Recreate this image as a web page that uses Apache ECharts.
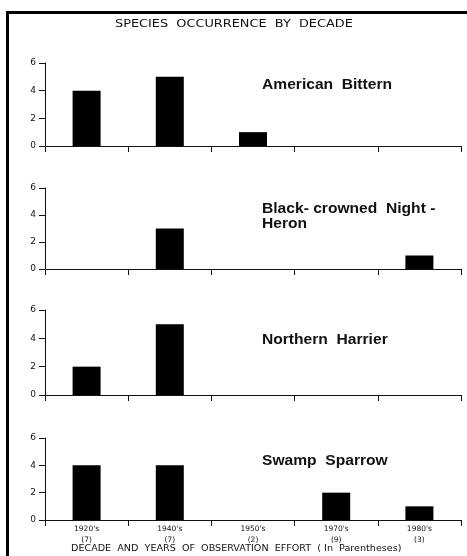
<!DOCTYPE html>
<html><head><meta charset="utf-8">
<script src="https://cdn.jsdelivr.net/npm/echarts@6/dist/echarts.min.js"></script>
<style>html,body{margin:0;padding:0;background:#fff}#c{width:467px;height:556px}</style>
</head><body><div id="c"></div>
<script>
const decades = ["1920's", "1940's", "1950's", "1970's", "1980's"];
const effortYears = ["(7)", "(7)", "(2)", "(9)", "(3)"];
const species = ["American  Bittern", "Black- crowned  Night -\nHeron", "Northern  Harrier", "Swamp  Sparrow"];
const americanBittern = [4, 5, 1, 0, 0];
const nightHeron = [0, 3, 0, 0, 1];
const northernHarrier = [2, 5, 0, 0, 0];
const swampSparrow = [4, 4, 0, 2, 1];
const yTicks = [0, 2, 4, 6];
const seriesData = [americanBittern, nightHeron, northernHarrier, swampSparrow];

const gridTops = [63, 188, 310, 438];
const gridHeights = [83, 81, 85, 82];
const labelY = [77, 201, 332, 453];

const chart = echarts.init(document.getElementById('c'), null, {renderer: 'canvas'});
const grids = [], xAxes = [], yAxes = [], series = [], graphics = [];
const font = 'DejaVu Sans';
seriesData.forEach((d, i) => {
  grids.push({left: 45, right: 6, top: gridTops[i], height: gridHeights[i]});
  const last = i === seriesData.length - 1;
  xAxes.push({
    type: 'category', gridIndex: i, data: decades, boundaryGap: true,
    axisLine: {lineStyle: {color: '#111', width: 1}},
    axisTick: {show: true, length: 6, lineStyle: {color: '#111', width: 1}},
    axisLabel: {show: last, fontFamily: font, fontSize: 7.5, color: '#111', margin: 4, lineHeight: 11,
      formatter: (v, idx) => v + '\n' + effortYears[idx]},
    splitLine: {show: false}
  });
  yAxes.push({
    type: 'value', gridIndex: i, min: yTicks[0], max: yTicks[yTicks.length - 1], interval: 2,
    axisLine: {show: true, lineStyle: {color: '#111', width: 1}},
    axisTick: {show: true, length: 6, lineStyle: {color: '#111', width: 1}},
    axisLabel: {fontFamily: font, fontSize: 9, color: '#111', margin: 9},
    splitLine: {show: false}
  });
  series.push({type: 'bar', xAxisIndex: i, yAxisIndex: i, data: d, barWidth: 28,
    itemStyle: {color: '#000'}, silent: true});
  graphics.push({type: 'text', x: 262, y: labelY[i], scaleX: 1.04,
    style: {text: species[i], font: 'bold 15px "Liberation Sans", Arial, sans-serif', fill: '#111', lineHeight: 15}});
});
graphics.push({type: 'polyline', shape: {points: [[7.5, 556], [7.5, 12.5], [467, 12.5]]},
  style: {stroke: '#000', lineWidth: 3, fill: null}});
graphics.push({type: 'text', x: 115, y: 19, scaleX: 1.17,
  style: {text: 'SPECIES  OCCURRENCE  BY  DECADE', font: '11px "DejaVu Sans"', fill: '#111'}});
graphics.push({type: 'text', x: 71, y: 545, scaleX: 1.2,
  style: {text: 'DECADE  AND  YEARS  OF  OBSERVATION  EFFORT  ( In  Parentheses)', font: '8px "DejaVu Sans"', fill: '#111'}});

chart.setOption({
  animation: false,
  backgroundColor: '#fff',
  grid: grids, xAxis: xAxes, yAxis: yAxes, series: series, graphic: graphics
});
</script></body></html>
